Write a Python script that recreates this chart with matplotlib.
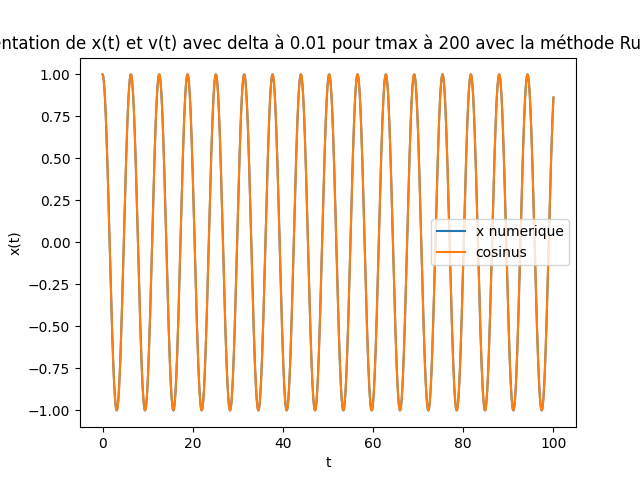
import numpy as np
import matplotlib
matplotlib.use("Agg")
import matplotlib.pyplot as plt

# parametres de la simulation
delta = 0.01
tmax = 100
x0 = 1.0
v0 = 0.0


def f(x, v):
    # oscillateur harmonique : x'' = -x
    return v, -x


# methode de Runge-Kutta d'ordre 4
n = int(round(tmax / delta))
t = np.linspace(0, tmax, n + 1)
x = np.zeros(n + 1)
v = np.zeros(n + 1)
x[0] = x0
v[0] = v0
for i in range(n):
    k1x, k1v = f(x[i], v[i])
    k2x, k2v = f(x[i] + delta / 2 * k1x, v[i] + delta / 2 * k1v)
    k3x, k3v = f(x[i] + delta / 2 * k2x, v[i] + delta / 2 * k2v)
    k4x, k4v = f(x[i] + delta * k3x, v[i] + delta * k3v)
    x[i + 1] = x[i] + delta / 6 * (k1x + 2 * k2x + 2 * k3x + k4x)
    v[i + 1] = v[i] + delta / 6 * (k1v + 2 * k2v + 2 * k3v + k4v)

fig = plt.figure(figsize=(6.4, 4.8), dpi=100)
plt.plot(t, x, label="x numerique")
plt.plot(t, np.cos(t), label="cosinus")
plt.xlabel("t")
plt.ylabel("x(t)")
plt.title("Représentation de x(t) et v(t) avec delta à 0.01 pour tmax à 200 avec la méthode Runge-Kutta")
plt.legend(loc="center right")
plt.savefig("out.png")
